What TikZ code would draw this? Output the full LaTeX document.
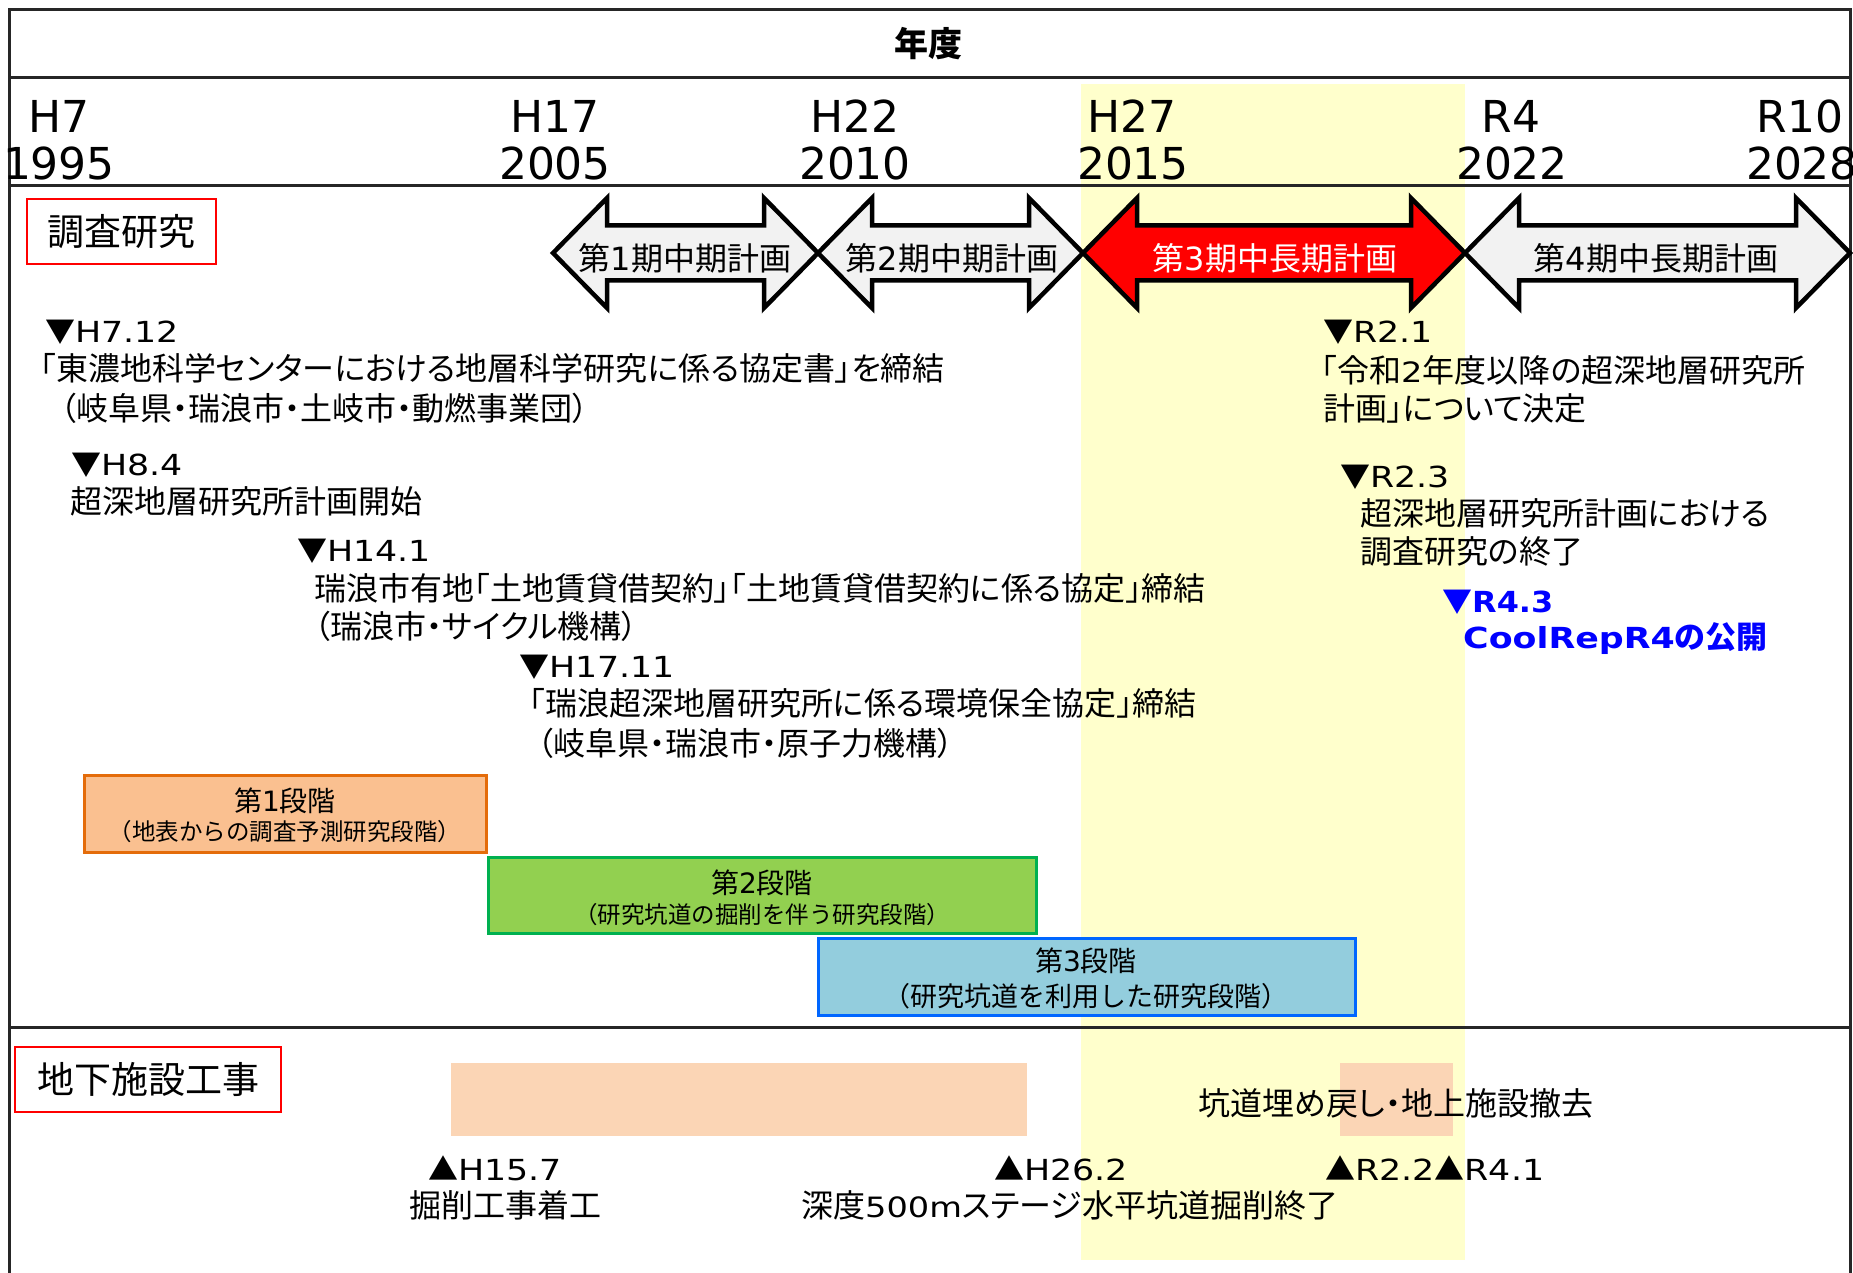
\documentclass[tikz,border=0pt]{standalone}
\usepackage{fontspec}
\newfontfamily\jp[RawFeature=+palt]{Noto Sans CJK JP}
\newfontfamily\jpn{Noto Sans CJK JP}
\newfontfamily\lat{DejaVu Sans}
\newfontfamily\latw[FakeStretch=1.2]{DejaVu Sans}
\newfontfamily\latb[FakeStretch=1.1]{DejaVu Sans}
\newcommand\myfs[1]{\fontsize{#1pt}{#1pt}\selectfont}
\newcommand\tridn{{\jpn\myfs{30}▼}}
\newcommand\triup{{\jpn\myfs{30}▲}}
\definecolor{bandc}{HTML}{FFFFCC}
\definecolor{arrg}{HTML}{F2F2F2}
\definecolor{peach}{HTML}{FBD5B5}
\definecolor{stAf}{HTML}{FAC090}
\definecolor{stAd}{HTML}{E46C0A}
\definecolor{stBf}{HTML}{92D050}
\definecolor{stBd}{HTML}{00B050}
\definecolor{stCf}{HTML}{93CDDD}
\definecolor{stCd}{HTML}{0066FF}
\definecolor{redc}{HTML}{FF0000}
\definecolor{bluec}{HTML}{0000FF}
\newcommand\dblarr[3]{\draw[#3] (#1,253) -- (#1+54,198) -- (#1+54,225.5) -- (#2-54,225.5) -- (#2-54,198) -- (#2,253) -- (#2-54,308) -- (#2-54,280.5) -- (#1+54,280.5) -- (#1+54,308) -- cycle;}
\begin{document}
\begin{tikzpicture}[x=1pt,y=-1pt,
  frame/.style={line width=3pt,black!85},
  evt/.style={anchor=base west,inner sep=0pt,font=\jp\myfs{32}},
  evlab/.style={anchor=base west,inner sep=0pt,font=\latw\myfs{29}},
  yr/.style={anchor=base,inner sep=0pt,font=\lat\myfs{44}},
  arrtxt/.style={anchor=base,inner sep=0pt,font=\jp\myfs{32}},
  arrbox/.style={line width=4.5pt,line join=miter},
  redbox/.style={draw=redc,line width=2pt,inner sep=0pt,font=\jpn\myfs{37}},
  stagebox/.style={line width=3pt,inner sep=0pt},
  sttl/.style={anchor=base,inner sep=0pt,font=\jpn\myfs{28}},
  ssub/.style={anchor=base,inner sep=0pt,font=\jpn\myfs{23.5}}]
\useasboundingbox (0,0) rectangle (1853,1273);
\fill[white] (0,0) rectangle (1853,1273);
% highlight band and bars
\fill[bandc] (1081,84) rectangle (1465,1260);
\fill[peach] (451,1063) rectangle (1027,1136);
\fill[peach] (1340,1063) rectangle (1453,1136);
% frame
\draw[frame] (9,1273) -- (9,10) -- (1850,10) -- (1850,1273);
\draw[frame] (9,78) -- (1850,78);
\draw[frame] (9,186) -- (1850,186);
\draw[frame] (9,1027) -- (1850,1027);
\node[inner sep=0pt,font=\jpn\bfseries\myfs{34}] (nendo) at (928,44) {年度};
% years
\node[yr] (h7) at (59,133) {H7};
\node[yr] (y1995) at (59,180) {1995};
\node[yr] (h17) at (555,133) {H17};
\node[yr] (y2005) at (555,180) {2005};
\node[yr] (h22) at (855,133) {H22};
\node[yr] (y2010) at (855,180) {2010};
\node[yr] (h27) at (1132,133) {H27};
\node[yr] (y2015) at (1133,180) {2015};
\node[yr] (r4) at (1511,133) {R4};
\node[yr] (y2022) at (1512,180) {2022};
\node[yr] (r10) at (1800,133) {R10};
\node[yr] (y2028) at (1802,180) {2028};
% plan arrows
\dblarr{553}{818}{arrbox,draw=black,fill=arrg}
\dblarr{818}{1083}{arrbox,draw=black,fill=arrg}
\dblarr{1083}{1465}{arrbox,draw=black,fill=redc}
\dblarr{1465}{1850}{arrbox,draw=black,fill=arrg}
\node[arrtxt] (p1) at (685,271) {第{\lat 1}期中期計画};
\node[arrtxt] (p2) at (952,271) {第{\lat 2}期中期計画};
\node[arrtxt,text=white] (p3) at (1275,271) {第{\lat 3}期中長期計画};
\node[arrtxt] (p4) at (1656,271) {第{\lat 4}期中長期計画};
% section labels
\node[redbox,minimum width=189pt,minimum height=65pt] (chosa) at (121.5,231.5) {調査研究};
\node[redbox,minimum width=266pt,minimum height=65pt] (chika) at (148,1079.5) {地下施設工事};
% events left
\node[evlab] (e1) at (45,342) {\tridn H7.12};
\node[evt] (e1a) at (40,380) {「東濃地科学センターにおける地層科学研究に係る協定書」を締結};
\node[evt] (e1b) at (60,420) {（岐阜県・瑞浪市・土岐市・動燃事業団）};
\node[evlab] (e2) at (71,475) {\tridn H8.4};
\node[evt] (e2a) at (70,513) {超深地層研究所計画開始};
\node[evlab] (e3) at (297,561) {\tridn H14.1};
\node[evt] (e3a) at (314,600) {瑞浪市有地「土地賃貸借契約」「土地賃貸借契約に係る協定」締結};
\node[evt] (e3b) at (314,638) {（瑞浪市・サイクル機構）};
\node[evlab] (e4) at (519,677) {\tridn H17.11};
\node[evt] (e4a) at (529,715) {「瑞浪超深地層研究所に係る環境保全協定」締結};
\node[evt] (e4b) at (537,755) {（岐阜県・瑞浪市・原子力機構）};
% events right
\node[evlab] (e5) at (1323,343) {\tridn R2.1};
\node[evt] (e5a) at (1321,382) {「令和{\latw\myfs{28}2}年度以降の超深地層研究所};
\node[evt] (e5b) at (1323,420) {計画」について決定};
\node[evlab] (e6) at (1340,487) {\tridn R2.3};
\node[evt] (e6a) at (1360,525) {超深地層研究所計画における};
\node[evt] (e6b) at (1360,563) {調査研究の終了};
\node[evlab,text=bluec,font=\latb\bfseries\myfs{29}] (e7) at (1442,612) {\tridn R4.3};
\node[evt,text=bluec,font=\jp\bfseries\myfs{31}] (e7a) at (1463,648) {{\latw\myfs{29}CoolRepR4}の公開};
% stages
\node[stagebox,draw=stAd,fill=stAf,minimum width=402pt,minimum height=77pt] (s1) at (285,813.5) {};
\node[sttl] (s1t) at (285,811) {第{\lat 1}段階};
\node[ssub] (s1s) at (285,840) {（地表からの調査予測研究段階）};
\node[stagebox,draw=stBd,fill=stBf,minimum width=548pt,minimum height=76pt] (s2) at (762,895) {};
\node[sttl] (s2t) at (762,893) {第{\lat 2}段階};
\node[ssub] (s2s) at (762,923) {（研究坑道の掘削を伴う研究段階）};
\node[stagebox,draw=stCd,fill=stCf,minimum width=537pt,minimum height=77pt] (s3) at (1086.5,976.5) {};
\node[sttl] (s3t) at (1086,971) {第{\lat 3}段階};
\node[ssub,font=\jpn\myfs{27}] (s3s) at (1086,1006) {（研究坑道を利用した研究段階）};
% construction
\node[evt] (c0) at (1198,1115) {坑道埋め戻し・地上施設撤去};
\node[evlab] (c1) at (428,1180) {\triup H15.7};
\node[evt] (c1a) at (409,1217) {掘削工事着工};
\node[evlab] (c2) at (994,1180) {\triup H26.2};
\node[evt] (c2a) at (801,1217) {深度{\latw\myfs{28}500m}ステージ水平坑道掘削終了};
\node[evlab] (c3) at (1325,1180) {\triup R2.2\triup R4.1};
\end{tikzpicture}
\end{document}
